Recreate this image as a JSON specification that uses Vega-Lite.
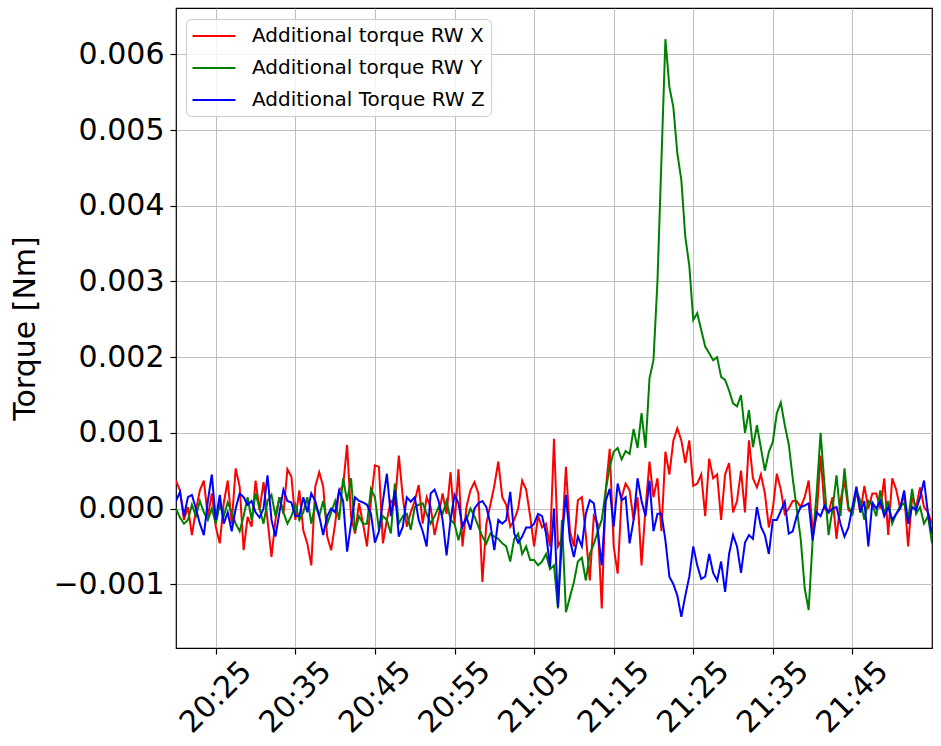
{
"$schema": "https://vega.github.io/schema/vega-lite/v6.json",
"width": 756,
"height": 640,
"autosize": {"type": "none"},
"padding": {"left": 176, "top": 8, "right": 9, "bottom": 98},
"background": "white",
"config": {"view": {"stroke": "#000000", "strokeWidth": 1.2}, "font": "DejaVu Sans"},
"data": {
"format": {"parse": {"t": "date:'%H:%M:%S'"}},
"values": [
{"t":"20:20:00","x":0.37e-3,"y":0,"z":0.1e-3},
{"t":"20:20:30","x":0.24e-3,"y":-0.12e-3,"z":0.22e-3},
{"t":"20:21:00","x":-0.15e-3,"y":-0.2e-3,"z":-0.1e-3},
{"t":"20:21:30","x":0.02e-3,"y":-0.15e-3,"z":0.15e-3},
{"t":"20:22:00","x":-0.35e-3,"y":0.05e-3,"z":0.18e-3},
{"t":"20:22:30","x":-0.02e-3,"y":-0.1e-3,"z":0},
{"t":"20:23:00","x":0.24e-3,"y":0.1e-3,"z":-0.2e-3},
{"t":"20:23:30","x":0.37e-3,"y":-0.05e-3,"z":-0.35e-3},
{"t":"20:24:00","x":-0.11e-3,"y":-0.15e-3,"z":0.1e-3},
{"t":"20:24:30","x":0.2e-3,"y":0,"z":0.45e-3},
{"t":"20:25:00","x":-0.24e-3,"y":-0.2e-3,"z":-0.15e-3},
{"t":"20:25:30","x":-0.46e-3,"y":0.05e-3,"z":0.18e-3},
{"t":"20:26:00","x":0.07e-3,"y":-0.1e-3,"z":-0.2e-3},
{"t":"20:26:30","x":0.37e-3,"y":0.08e-3,"z":-0.05e-3},
{"t":"20:27:00","x":-0.2e-3,"y":-0.05e-3,"z":-0.3e-3},
{"t":"20:27:30","x":0.53e-3,"y":-0.2e-3,"z":0},
{"t":"20:28:00","x":0.29e-3,"y":-0.3e-3,"z":0.2e-3},
{"t":"20:28:30","x":-0.55e-3,"y":-0.1e-3,"z":0.15e-3},
{"t":"20:29:00","x":-0.11e-3,"y":0.15e-3,"z":0.05e-3},
{"t":"20:29:30","x":-0.24e-3,"y":-0.15e-3,"z":0.1e-3},
{"t":"20:30:00","x":0.37e-3,"y":0.2e-3,"z":-0.05e-3},
{"t":"20:30:30","x":-0.02e-3,"y":0,"z":-0.12e-3},
{"t":"20:31:00","x":0.35e-3,"y":-0.2e-3,"z":0},
{"t":"20:31:30","x":-0.15e-3,"y":0.1e-3,"z":0.44e-3},
{"t":"20:32:00","x":-0.64e-3,"y":0.18e-3,"z":-0.15e-3},
{"t":"20:32:30","x":-0.15e-3,"y":-0.1e-3,"z":-0.37e-3},
{"t":"20:33:00","x":0.15e-3,"y":0.15e-3,"z":-0.05e-3},
{"t":"20:33:30","x":-0.07e-3,"y":-0.05e-3,"z":0.25e-3},
{"t":"20:34:00","x":0.52e-3,"y":-0.2e-3,"z":0.1e-3},
{"t":"20:34:30","x":0.42e-3,"y":-0.1e-3,"z":0.08e-3},
{"t":"20:35:00","x":-0.15e-3,"y":0.05e-3,"z":-0.1e-3},
{"t":"20:35:30","x":0.24e-3,"y":-0.15e-3,"z":-0.1e-3},
{"t":"20:36:00","x":-0.29e-3,"y":-0.05e-3,"z":0.15e-3},
{"t":"20:36:30","x":-0.46e-3,"y":0.15e-3,"z":-0.05e-3},
{"t":"20:37:00","x":-0.75e-3,"y":-0.2e-3,"z":0.2e-3},
{"t":"20:37:30","x":0.29e-3,"y":0.05e-3,"z":0.1e-3},
{"t":"20:38:00","x":0.48e-3,"y":-0.1e-3,"z":-0.1e-3},
{"t":"20:38:30","x":0.29e-3,"y":0.1e-3,"z":-0.35e-3},
{"t":"20:39:00","x":-0.37e-3,"y":-0.2e-3,"z":-0.1e-3},
{"t":"20:39:30","x":-0.55e-3,"y":-0.05e-3,"z":0},
{"t":"20:40:00","x":-0.2e-3,"y":0.1e-3,"z":-0.05e-3},
{"t":"20:40:30","x":0.24e-3,"y":-0.15e-3,"z":0.24e-3},
{"t":"20:41:00","x":0.3e-3,"y":0.4e-3,"z":0.1e-3},
{"t":"20:41:30","x":0.84e-3,"y":0.1e-3,"z":-0.57e-3},
{"t":"20:42:00","x":-0.11e-3,"y":0.4e-3,"z":-0.2e-3},
{"t":"20:42:30","x":-0.33e-3,"y":-0.3e-3,"z":0.15e-3},
{"t":"20:43:00","x":0.07e-3,"y":-0.1e-3,"z":0.1e-3},
{"t":"20:43:30","x":-0.2e-3,"y":-0.2e-3,"z":0.08e-3},
{"t":"20:44:00","x":-0.5e-3,"y":-0.2e-3,"z":0.05e-3},
{"t":"20:44:30","x":0.1e-3,"y":0.26e-3,"z":-0.07e-3},
{"t":"20:45:00","x":0.57e-3,"y":0.15e-3,"z":-0.45e-3},
{"t":"20:45:30","x":0.55e-3,"y":-0.28e-3,"z":-0.3e-3},
{"t":"20:46:00","x":-0.46e-3,"y":-0.1e-3,"z":0.1e-3},
{"t":"20:46:30","x":-0.15e-3,"y":-0.15e-3,"z":0.46e-3},
{"t":"20:47:00","x":0.1e-3,"y":-0.33e-3,"z":-0.1e-3},
{"t":"20:47:30","x":0.05e-3,"y":0.33e-3,"z":0.24e-3},
{"t":"20:48:00","x":0.7e-3,"y":-0.2e-3,"z":-0.37e-3},
{"t":"20:48:30","x":0.15e-3,"y":-0.1e-3,"z":-0.24e-3},
{"t":"20:49:00","x":-0.24e-3,"y":-0.07e-3,"z":0.15e-3},
{"t":"20:49:30","x":-0.05e-3,"y":-0.28e-3,"z":0.09e-3},
{"t":"20:50:00","x":0.1e-3,"y":0.02e-3,"z":0.15e-3},
{"t":"20:50:30","x":0.31e-3,"y":0.05e-3,"z":-0.15e-3},
{"t":"20:51:00","x":-0.2e-3,"y":0.07e-3,"z":-0.3e-3},
{"t":"20:51:30","x":0.15e-3,"y":-0.07e-3,"z":-0.5e-3},
{"t":"20:52:00","x":0.02e-3,"y":-0.2e-3,"z":0.2e-3},
{"t":"20:52:30","x":-0.35e-3,"y":-0.1e-3,"z":0.25e-3},
{"t":"20:53:00","x":-0.1e-3,"y":0.02e-3,"z":0.1e-3},
{"t":"20:53:30","x":0.2e-3,"y":-0.07e-3,"z":-0.15e-3},
{"t":"20:54:00","x":-0.07e-3,"y":0.1e-3,"z":-0.62e-3},
{"t":"20:54:30","x":0.48e-3,"y":-0.15e-3,"z":-0.15e-3},
{"t":"20:55:00","x":-0.2e-3,"y":-0.2e-3,"z":0.18e-3},
{"t":"20:55:30","x":0.52e-3,"y":-0.42e-3,"z":0.07e-3},
{"t":"20:56:00","x":-0.5e-3,"y":-0.2e-3,"z":-0.24e-3},
{"t":"20:56:30","x":0.02e-3,"y":-0.15e-3,"z":-0.11e-3},
{"t":"20:57:00","x":0.24e-3,"y":0,"z":-0.28e-3},
{"t":"20:57:30","x":0.35e-3,"y":-0.1e-3,"z":0},
{"t":"20:58:00","x":0.2e-3,"y":-0.24e-3,"z":0.07e-3},
{"t":"20:58:30","x":-0.97e-3,"y":-0.37e-3,"z":0.1e-3},
{"t":"20:59:00","x":-0.2e-3,"y":-0.46e-3,"z":0.02e-3},
{"t":"20:59:30","x":0.05e-3,"y":-0.33e-3,"z":-0.2e-3},
{"t":"21:00:00","x":0.3e-3,"y":-0.37e-3,"z":-0.55e-3},
{"t":"21:00:30","x":0.62e-3,"y":-0.4e-3,"z":-0.15e-3},
{"t":"21:01:00","x":0.15e-3,"y":-0.46e-3,"z":-0.2e-3},
{"t":"21:01:30","x":0.05e-3,"y":-0.5e-3,"z":-0.15e-3},
{"t":"21:02:00","x":-0.24e-3,"y":-0.7e-3,"z":0.22e-3},
{"t":"21:02:30","x":-0.15e-3,"y":-0.4e-3,"z":-0.33e-3},
{"t":"21:03:00","x":0,"y":-0.33e-3,"z":-0.45e-3},
{"t":"21:03:30","x":0.37e-3,"y":-0.6e-3,"z":-0.37e-3},
{"t":"21:04:00","x":0.25e-3,"y":-0.5e-3,"z":-0.25e-3},
{"t":"21:04:30","x":-0.1e-3,"y":-0.68e-3,"z":-0.25e-3},
{"t":"21:05:00","x":-0.5e-3,"y":-0.68e-3,"z":-0.2e-3},
{"t":"21:05:30","x":-0.1e-3,"y":-0.75e-3,"z":-0.07e-3},
{"t":"21:06:00","x":-0.25e-3,"y":-0.7e-3,"z":-0.1e-3},
{"t":"21:06:30","x":-0.2e-3,"y":-0.6e-3,"z":-0.33e-3},
{"t":"21:07:00","x":-0.5e-3,"y":-0.8e-3,"z":-0.77e-3},
{"t":"21:07:30","x":0.92e-3,"y":-0.75e-3,"z":0},
{"t":"21:08:00","x":-0.5e-3,"y":-1.32e-3,"z":-1.3e-3},
{"t":"21:08:30","x":-0.4e-3,"y":-0.15e-3,"z":-0.4e-3},
{"t":"21:09:00","x":0.55e-3,"y":-1.37e-3,"z":0.18e-3},
{"t":"21:09:30","x":-0.3e-3,"y":-1.17e-3,"z":-0.42e-3},
{"t":"21:10:00","x":-0.5e-3,"y":-0.97e-3,"z":-0.64e-3},
{"t":"21:10:30","x":0.11e-3,"y":-0.7e-3,"z":-0.37e-3},
{"t":"21:11:00","x":0.15e-3,"y":-0.65e-3,"z":-0.5e-3},
{"t":"21:11:30","x":-0.35e-3,"y":-0.95e-3,"z":-0.07e-3},
{"t":"21:12:00","x":-0.95e-3,"y":-0.6e-3,"z":0.11e-3},
{"t":"21:12:30","x":-0.1e-3,"y":-0.47e-3,"z":0.07e-3},
{"t":"21:13:00","x":-0.2e-3,"y":-0.3e-3,"z":-0.3e-3},
{"t":"21:13:30","x":-1.32e-3,"y":-0.15e-3,"z":-0.75e-3},
{"t":"21:14:00","x":0.24e-3,"y":0.24e-3,"z":0.1e-3},
{"t":"21:14:30","x":0.79e-3,"y":0.55e-3,"z":0.26e-3},
{"t":"21:15:00","x":-0.5e-3,"y":0.75e-3,"z":-0.24e-3},
{"t":"21:15:30","x":-0.86e-3,"y":0.8e-3,"z":0.33e-3},
{"t":"21:16:00","x":0.15e-3,"y":0.65e-3,"z":0.11e-3},
{"t":"21:16:30","x":0.33e-3,"y":0.76e-3,"z":0.15e-3},
{"t":"21:17:00","x":0.24e-3,"y":0.72e-3,"z":-0.46e-3},
{"t":"21:17:30","x":-0.15e-3,"y":1.05e-3,"z":-0.15e-3},
{"t":"21:18:00","x":0.15e-3,"y":0.8e-3,"z":0.4e-3},
{"t":"21:18:30","x":-0.75e-3,"y":1.26e-3,"z":0.1e-3},
{"t":"21:19:00","x":0,"y":0.8e-3,"z":-0.1e-3},
{"t":"21:19:30","x":0.62e-3,"y":1.72e-3,"z":0.37e-3},
{"t":"21:20:00","x":0.15e-3,"y":1.96e-3,"z":-0.3e-3},
{"t":"21:20:30","x":0.4e-3,"y":3.0e-3,"z":-0.07e-3},
{"t":"21:21:00","x":-0.3e-3,"y":4.6e-3,"z":-0.07e-3},
{"t":"21:21:30","x":0.75e-3,"y":6.2e-3,"z":-0.42e-3},
{"t":"21:22:00","x":0.45e-3,"y":5.57e-3,"z":-0.9e-3},
{"t":"21:22:30","x":0.9e-3,"y":5.3e-3,"z":-1.0e-3},
{"t":"21:23:00","x":1.06e-3,"y":4.69e-3,"z":-1.15e-3},
{"t":"21:23:30","x":0.9e-3,"y":4.34e-3,"z":-1.43e-3},
{"t":"21:24:00","x":0.6e-3,"y":3.59e-3,"z":-1.15e-3},
{"t":"21:24:30","x":0.9e-3,"y":3.21e-3,"z":-0.9e-3},
{"t":"21:25:00","x":0.3e-3,"y":2.49e-3,"z":-0.5e-3},
{"t":"21:25:30","x":0.33e-3,"y":2.58e-3,"z":-0.75e-3},
{"t":"21:26:00","x":0.45e-3,"y":2.36e-3,"z":-0.93e-3},
{"t":"21:26:30","x":-0.1e-3,"y":2.14e-3,"z":-0.9e-3},
{"t":"21:27:00","x":0.66e-3,"y":2.05e-3,"z":-0.6e-3},
{"t":"21:27:30","x":0.4e-3,"y":1.96e-3,"z":-0.85e-3},
{"t":"21:28:00","x":0.45e-3,"y":2.0e-3,"z":-0.95e-3},
{"t":"21:28:30","x":-0.15e-3,"y":1.74e-3,"z":-0.7e-3},
{"t":"21:29:00","x":0.45e-3,"y":1.7e-3,"z":-1.1e-3},
{"t":"21:29:30","x":0.6e-3,"y":1.56e-3,"z":-0.6e-3},
{"t":"21:30:00","x":-0.05e-3,"y":1.39e-3,"z":-0.35e-3},
{"t":"21:30:30","x":0.1e-3,"y":1.35e-3,"z":-0.5e-3},
{"t":"21:31:00","x":0.5e-3,"y":1.5e-3,"z":-0.85e-3},
{"t":"21:31:30","x":-0.05e-3,"y":1.0e-3,"z":-0.45e-3},
{"t":"21:32:00","x":0.9e-3,"y":1.3e-3,"z":-0.35e-3},
{"t":"21:32:30","x":0.4e-3,"y":0.81e-3,"z":-0.4e-3},
{"t":"21:33:00","x":0.28e-3,"y":1.1e-3,"z":0.02e-3},
{"t":"21:33:30","x":0.45e-3,"y":0.8e-3,"z":-0.24e-3},
{"t":"21:34:00","x":0.2e-3,"y":0.5e-3,"z":-0.35e-3},
{"t":"21:34:30","x":-0.25e-3,"y":0.75e-3,"z":-0.6e-3},
{"t":"21:35:00","x":0,"y":0.88e-3,"z":-0.15e-3},
{"t":"21:35:30","x":0.46e-3,"y":1.26e-3,"z":-0.15e-3},
{"t":"21:36:00","x":0.25e-3,"y":1.4e-3,"z":-0.03e-3},
{"t":"21:36:30","x":-0.07e-3,"y":1.1e-3,"z":0.09e-3},
{"t":"21:37:00","x":0,"y":0.85e-3,"z":-0.33e-3},
{"t":"21:37:30","x":0.1e-3,"y":0.4e-3,"z":-0.3e-3},
{"t":"21:38:00","x":0.1e-3,"y":0,"z":-0.1e-3},
{"t":"21:38:30","x":0.02e-3,"y":-0.4e-3,"z":0.02e-3},
{"t":"21:39:00","x":0.15e-3,"y":-1.05e-3,"z":0.04e-3},
{"t":"21:39:30","x":0.37e-3,"y":-1.34e-3,"z":0.07e-3},
{"t":"21:40:00","x":-0.29e-3,"y":-0.42e-3,"z":-0.42e-3},
{"t":"21:40:30","x":-0.1e-3,"y":0.2e-3,"z":-0.05e-3},
{"t":"21:41:00","x":0.7e-3,"y":1.0e-3,"z":-0.1e-3},
{"t":"21:41:30","x":0,"y":0.3e-3,"z":0.04e-3},
{"t":"21:42:00","x":-0.05e-3,"y":-0.35e-3,"z":-0.05e-3},
{"t":"21:42:30","x":0.15e-3,"y":0,"z":0},
{"t":"21:43:00","x":-0.4e-3,"y":0.44e-3,"z":0.02e-3},
{"t":"21:43:30","x":0.1e-3,"y":-0.1e-3,"z":-0.2e-3},
{"t":"21:44:00","x":0.37e-3,"y":0.53e-3,"z":-0.37e-3},
{"t":"21:44:30","x":-0.02e-3,"y":0.02e-3,"z":-0.25e-3},
{"t":"21:45:00","x":-0.07e-3,"y":-0.07e-3,"z":0.02e-3},
{"t":"21:45:30","x":0.24e-3,"y":0.24e-3,"z":0.29e-3},
{"t":"21:46:00","x":-0.05e-3,"y":0.1e-3,"z":-0.05e-3},
{"t":"21:46:30","x":0.3e-3,"y":-0.15e-3,"z":0.1e-3},
{"t":"21:47:00","x":0,"y":0.1e-3,"z":-0.5e-3},
{"t":"21:47:30","x":0.2e-3,"y":0.05e-3,"z":0.08e-3},
{"t":"21:48:00","x":0.2e-3,"y":-0.1e-3,"z":0},
{"t":"21:48:30","x":0,"y":0.24e-3,"z":0.1e-3},
{"t":"21:49:00","x":0.4e-3,"y":-0.07e-3,"z":-0.1e-3},
{"t":"21:49:30","x":-0.35e-3,"y":0.1e-3,"z":0.02e-3},
{"t":"21:50:00","x":0.4e-3,"y":-0.2e-3,"z":-0.15e-3},
{"t":"21:50:30","x":0.25e-3,"y":-0.07e-3,"z":-0.07e-3},
{"t":"21:51:00","x":0,"y":0.03e-3,"z":0},
{"t":"21:51:30","x":0.2e-3,"y":0.07e-3,"z":0.24e-3},
{"t":"21:52:00","x":-0.5e-3,"y":-0.15e-3,"z":-0.2e-3},
{"t":"21:52:30","x":0.15e-3,"y":0.26e-3,"z":0.02e-3},
{"t":"21:53:00","x":0.02e-3,"y":-0.07e-3,"z":-0.02e-3},
{"t":"21:53:30","x":0.28e-3,"y":0.02e-3,"z":0.15e-3},
{"t":"21:54:00","x":0.02e-3,"y":-0.2e-3,"z":0.37e-3},
{"t":"21:54:30","x":-0.05e-3,"y":-0.1e-3,"z":-0.07e-3},
{"t":"21:55:00","x":-0.2e-3,"y":-0.46e-3,"z":-0.33e-3}
]
},
"transform": [{"fold": ["x", "y", "z"], "as": ["series", "torque"]}],
"mark": {"type": "line", "strokeWidth": 2, "clip": true},
"encoding": {
"x": {
"field": "t", "type": "temporal",
"scale": {"domain": [{"year": 1900, "month": 1, "date": 1, "hours": 20, "minutes": 20}, {"year": 1900, "month": 1, "date": 1, "hours": 21, "minutes": 55}]},
"axis": {
"values": [
{"year": 1900, "month": 1, "date": 1, "hours": 20, "minutes": 25},
{"year": 1900, "month": 1, "date": 1, "hours": 20, "minutes": 35},
{"year": 1900, "month": 1, "date": 1, "hours": 20, "minutes": 45},
{"year": 1900, "month": 1, "date": 1, "hours": 20, "minutes": 55},
{"year": 1900, "month": 1, "date": 1, "hours": 21, "minutes": 5},
{"year": 1900, "month": 1, "date": 1, "hours": 21, "minutes": 15},
{"year": 1900, "month": 1, "date": 1, "hours": 21, "minutes": 25},
{"year": 1900, "month": 1, "date": 1, "hours": 21, "minutes": 35},
{"year": 1900, "month": 1, "date": 1, "hours": 21, "minutes": 45}
],
"format": "%H:%M", "title": null,
"labelAngle": -45, "labelAlign": "center", "labelBaseline": "middle", "labelPadding": 43,
"labelFont": "DejaVu Sans", "labelFontSize": 30, "labelColor": "#000000",
"labelOverlap": false, "labelFlush": false, "labelBound": false,
"domain": false, "tickColor": "#000000", "tickSize": 6, "tickWidth": 1.2,
"grid": true, "gridColor": "#b0b0b0", "gridWidth": 1, "gridOpacity": 0.8
}
},
"y": {
"field": "torque", "type": "quantitative",
"scale": {"domain": [-0.001842, 0.006612], "nice": false, "zero": false},
"axis": {
"values": [-0.001, 0, 0.001, 0.002, 0.003, 0.004, 0.005, 0.006],
"format": ".3f", "title": "Torque [Nm]",
"titleFont": "DejaVu Sans", "titleFontSize": 30, "titleFontWeight": "normal", "titleColor": "#000000", "titlePadding": 12,
"labelFont": "DejaVu Sans", "labelFontSize": 30, "labelColor": "#000000", "labelPadding": 6,
"labelOverlap": false, "labelFlush": false,
"domain": false, "tickColor": "#000000", "tickSize": 6, "tickWidth": 1.2,
"grid": true, "gridColor": "#b0b0b0", "gridWidth": 1, "gridOpacity": 0.8
}
},
"color": {
"field": "series", "type": "nominal",
"scale": {"domain": ["x", "y", "z"], "range": ["#ff0000", "#008000", "#0000ff"]},
"legend": {
"title": null, "orient": "none", "legendX": 10, "legendY": 11,
"labelExpr": "datum.label == 'x' ? 'Additional torque RW X' : datum.label == 'y' ? 'Additional torque RW Y' : 'Additional Torque RW Z'",
"labelFont": "DejaVu Sans", "labelFontSize": 20, "labelColor": "#000000", "labelLimit": 400,
"symbolType": "M-2.15,0H2.15", "symbolSize": 400, "symbolStrokeWidth": 2,
"padding": 6, "rowPadding": 11, "symbolOffset": 11, "labelOffset": 27,
"fillColor": "rgba(255,255,255,0.8)", "strokeColor": "#cccccc", "cornerRadius": 5
}
}
}
}
